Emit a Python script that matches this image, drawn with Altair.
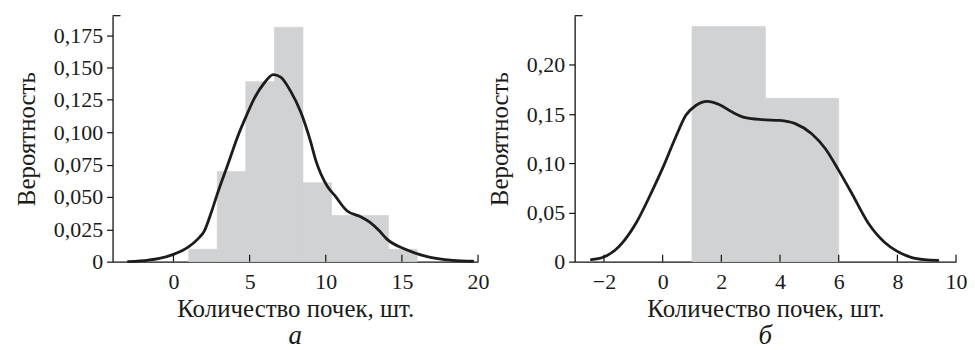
import altair as alt
import pandas as pd

FONT = "Liberation Serif"
BAR_COLOR = "#d1d2d4"
LINE_COLOR = "#1c1c1c"

# ---------- panel а ----------
a_bin_left = [1.0, 2.875, 4.75, 6.625, 8.5, 10.375, 12.25, 14.125]
a_bin_right = [2.875, 4.75, 6.625, 8.5, 10.375, 12.25, 14.125, 16.0]
a_bin_height = [0.0096, 0.0696, 0.139, 0.181, 0.0609, 0.0357, 0.0357, 0.0096]
a_kde_x = [-2.96, -1.65, -1.0, 0.0, 0.96, 1.61, 2.04, 2.48, 2.87, 3.57, 4.22,
           4.76, 5.30, 5.96, 6.55, 7.04, 7.70, 8.35, 9.0, 9.33, 10.09, 10.6,
           11.39, 12.26, 12.91, 13.5, 14.0, 15.3, 16.6, 18.35, 19.65]
a_kde_y = [0.0, 0.0012, 0.0023, 0.0056, 0.0112, 0.0176, 0.024, 0.038, 0.052,
           0.075, 0.0967, 0.112, 0.126, 0.138, 0.1445, 0.1426, 0.1315, 0.1158,
           0.0929, 0.0788, 0.0584, 0.051, 0.0393, 0.0349, 0.0303, 0.024, 0.0176,
           0.0092, 0.0041, 0.001, 0.0003]
a_x_domain = [-4, 20]
a_y_domain = [0, 0.19]
a_x_ticks = [0, 5, 10, 15, 20]
a_y_ticks = [0, 0.025, 0.05, 0.075, 0.1, 0.125, 0.15, 0.175]

# ---------- panel б ----------
b_bin_left = [1.0, 3.5]
b_bin_right = [3.5, 6.0]
b_bin_height = [0.239, 0.166]
b_kde_x = [-2.43, -2.03, -1.47, -0.90, -0.34, 0.0, 0.45, 0.79, 1.13, 1.53, 1.92,
           2.37, 2.82, 3.39, 3.98, 4.52, 5.08, 5.54, 5.99, 6.44, 7.0, 7.57,
           7.97, 8.47, 8.93, 9.38]
b_kde_y = [0.002, 0.0044, 0.016, 0.0396, 0.073, 0.095, 0.127, 0.1487, 0.1587,
           0.1628, 0.1597, 0.152, 0.1463, 0.1443, 0.1436, 0.1403, 0.130, 0.115,
           0.0933, 0.0698, 0.0396, 0.0195, 0.011, 0.0044, 0.002, 0.0013]
b_x_domain = [-3, 10]
b_y_domain = [0, 0.25]
b_x_ticks = [-2, 0, 2, 4, 6, 8, 10]
b_y_ticks = [0, 0.05, 0.1, 0.15, 0.2]

X_TITLE = "Количество почек, шт."
Y_TITLE = "Вероятность"


def panel(bl, br, bh, kx, ky, xdom, ydom, xt, yt, ydec, width, height, caption):
    bars_df = pd.DataFrame({"x0": bl, "x1": br, "h": bh})
    kde_df = pd.DataFrame({"x": kx, "y": ky})
    ticks_df = pd.DataFrame({"t": xt})
    cap_df = pd.DataFrame({"c": [0]})

    xs = alt.Scale(domain=xdom, nice=False, zero=False)
    ys = alt.Scale(domain=ydom, nice=False, zero=False)

    label_expr = (
        "datum.value == 0 ? '0' : replace(format(datum.value, '.%df'), '.', ',')" % ydec
    )
    x_axis = alt.Axis(values=xt, ticks=False, title=X_TITLE,
                      labelPadding=10, titlePadding=4, format="d",
                      labelOverlap=False, labelFlush=False)
    y_axis = alt.Axis(values=yt, tickSize=6, labelPadding=4,
                      titlePadding=14, title=Y_TITLE,
                      labelExpr=label_expr, labelOverlap=False,
                      labelFlush=False)

    bars = alt.Chart(bars_df).mark_rect(
        color=BAR_COLOR, stroke=BAR_COLOR, strokeWidth=0.7
    ).encode(
        x=alt.X("x0:Q", scale=xs, axis=x_axis),
        x2="x1:Q",
        y=alt.Y("h:Q", scale=ys, axis=y_axis),
        y2=alt.datum(0),
    )
    line = alt.Chart(kde_df).mark_line(
        color=LINE_COLOR, strokeWidth=2.8, interpolate="monotone",
        strokeCap="round", strokeJoin="round"
    ).encode(x=alt.X("x:Q", scale=xs, axis=x_axis),
             y=alt.Y("y:Q", scale=ys, axis=y_axis))

    xticks = alt.Chart(ticks_df).mark_rule(color="#111", strokeWidth=1.2).encode(
        x=alt.X("t:Q", scale=xs, axis=x_axis),
        y=alt.value(height),
        y2=alt.value(height - 7),
    )
    cap = alt.Chart(cap_df).mark_rule(color="#111", strokeWidth=1.2).encode(
        x=alt.value(0), x2=alt.value(8), y=alt.value(0)
    )

    return alt.layer(bars, line, xticks, cap).properties(
        width=width,
        height=height,
        title=alt.TitleParams(
            caption, orient="bottom", font=FONT, fontSize=27,
            fontStyle="italic", fontWeight="normal", color="#1a1a1a", offset=2,
        ),
    )


left = panel(a_bin_left, a_bin_right, a_bin_height, a_kde_x, a_kde_y,
             a_x_domain, a_y_domain, a_x_ticks, a_y_ticks, 3, 367, 247, "а")
right = panel(b_bin_left, b_bin_right, b_bin_height, b_kde_x, b_kde_y,
              b_x_domain, b_y_domain, b_x_ticks, b_y_ticks, 2, 383, 247, "б")

chart = (
    alt.hconcat(left, right, spacing=97, bounds="flush")
    .properties(padding={"left": 6, "top": 6, "right": 0, "bottom": 0})
    .configure_view(stroke=None)
    .configure_axis(
        grid=False,
        domainColor="#111",
        domainWidth=1.3,
        tickColor="#111",
        tickWidth=1.2,
        labelFont=FONT,
        labelFontSize=22,
        labelColor="#1a1a1a",
        labelOverlap=False,
        titleFont=FONT,
        titleFontSize=25,
        titleFontWeight="normal",
        titleColor="#1a1a1a",
    )
)

chart.save("out.html", embed_options={"renderer": "svg", "actions": False})
